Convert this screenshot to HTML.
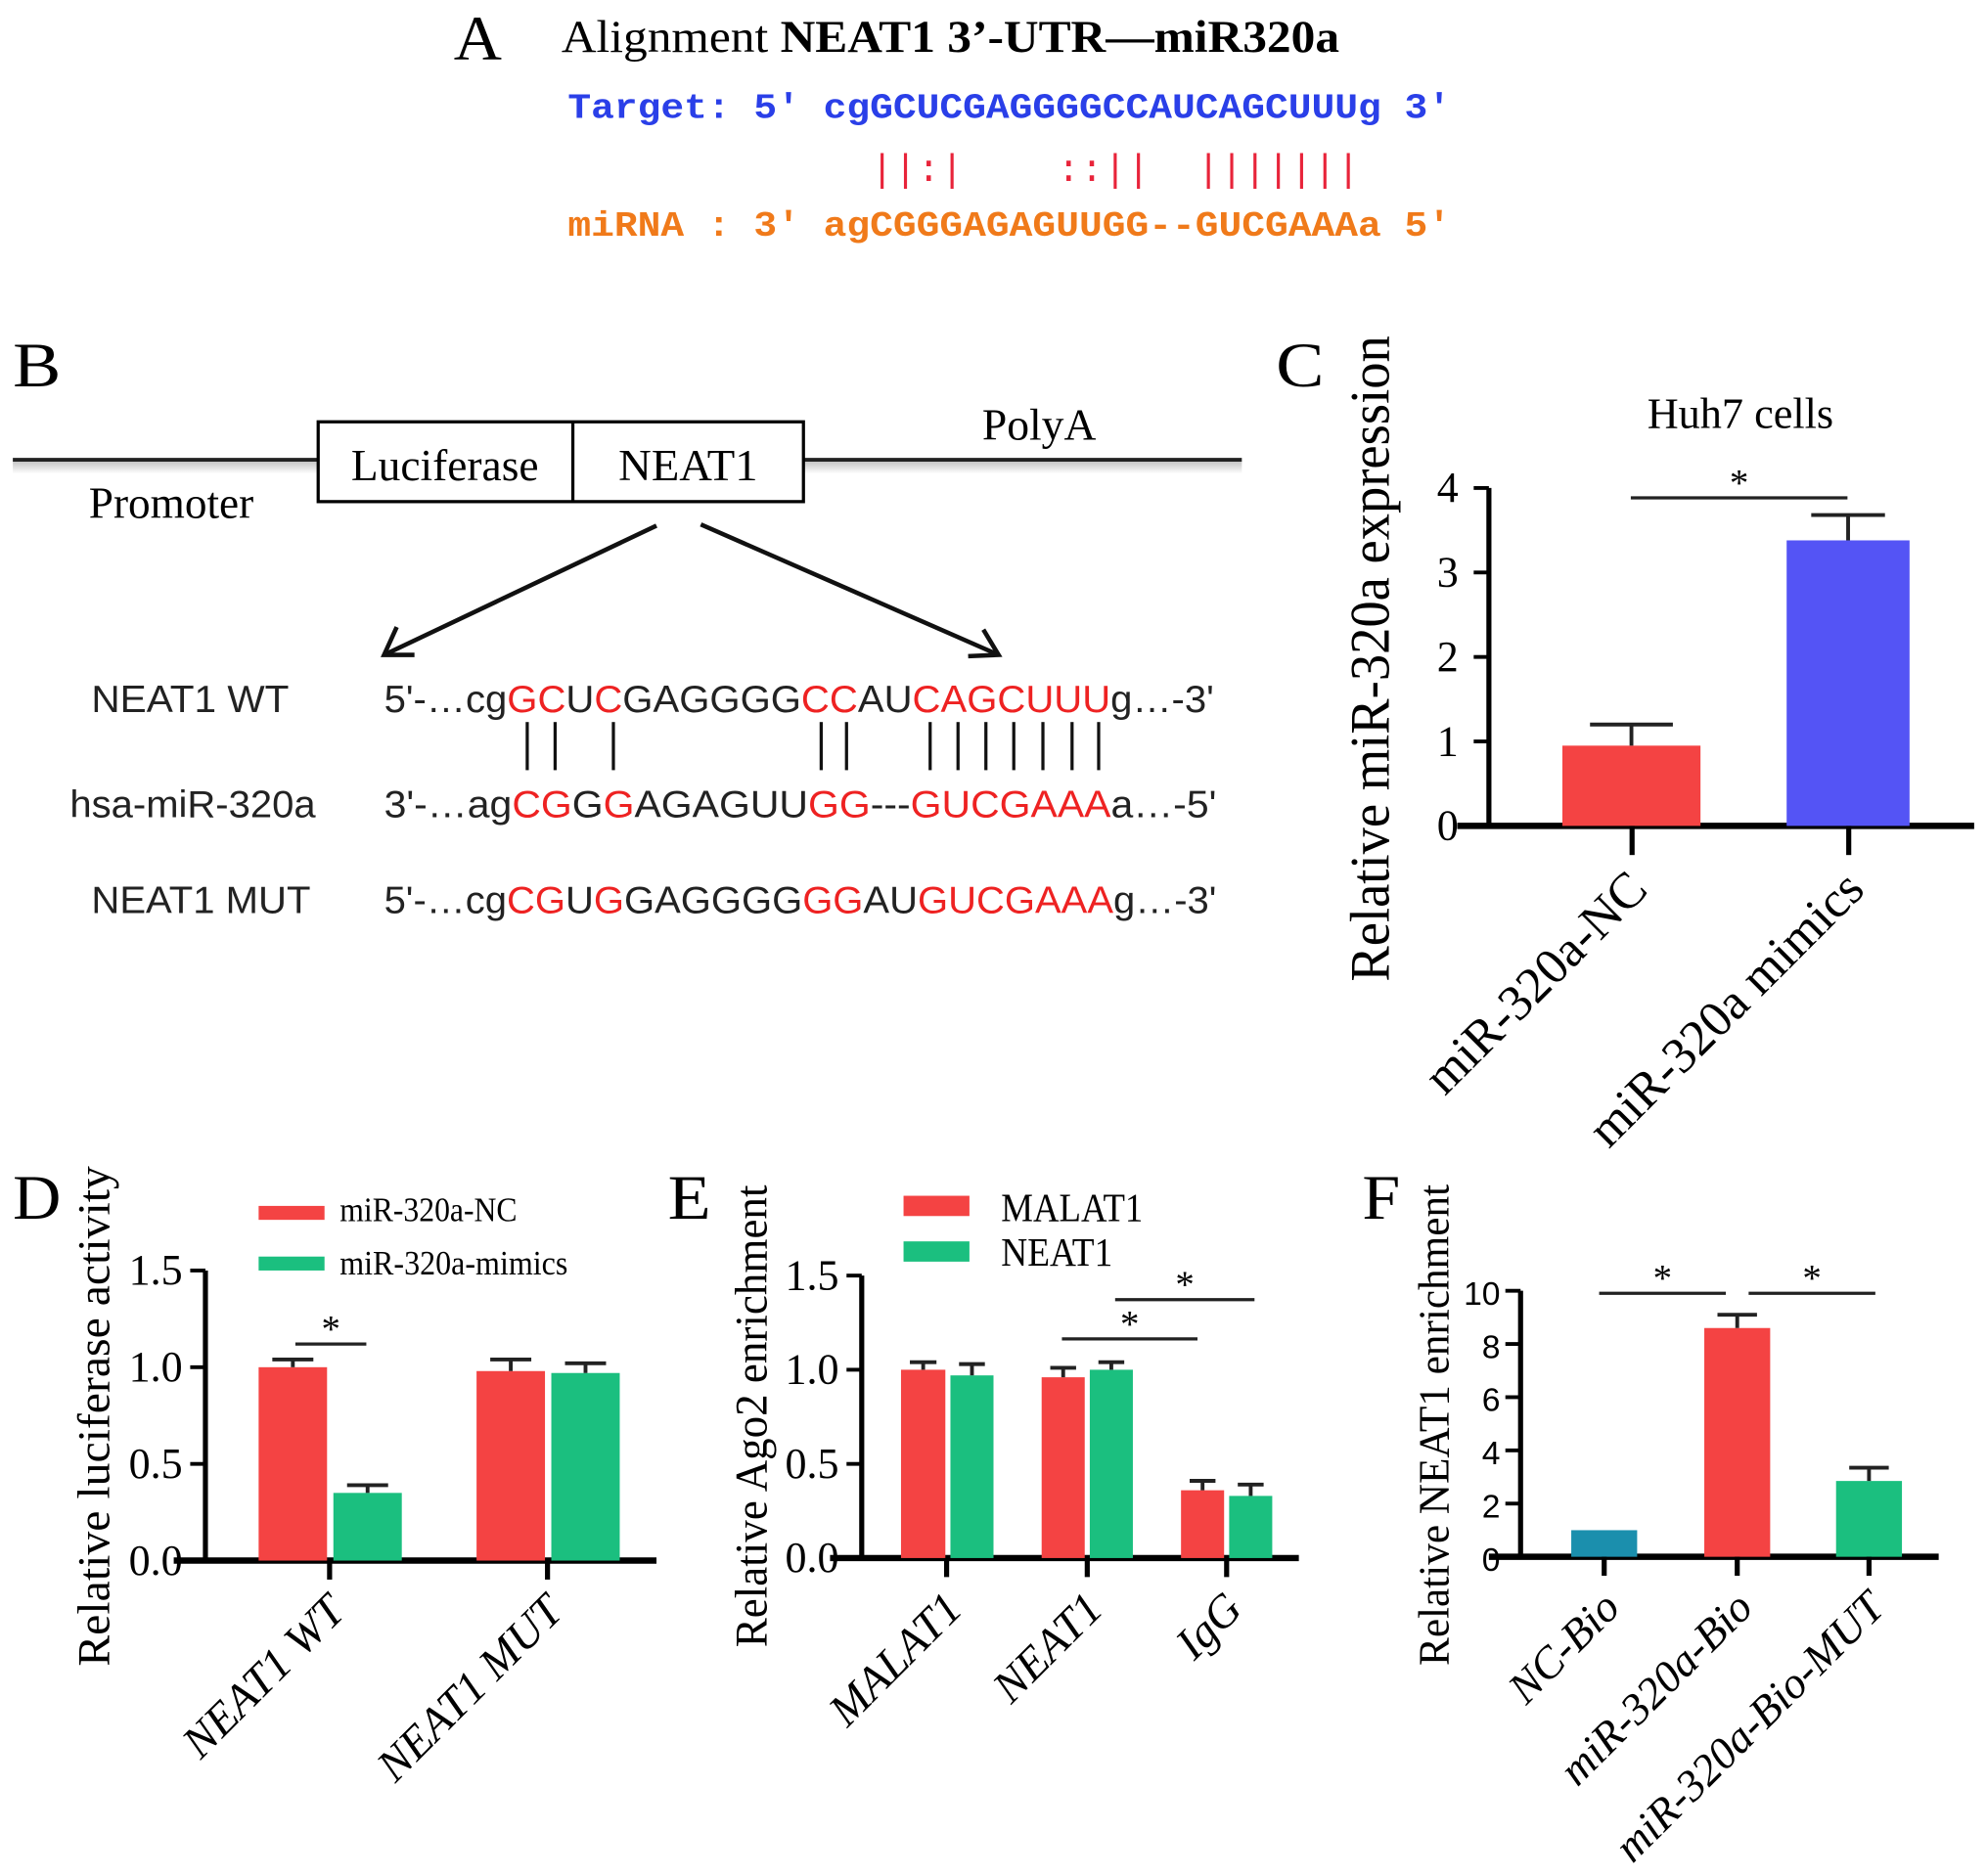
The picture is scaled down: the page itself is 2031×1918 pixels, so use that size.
<!DOCTYPE html>
<html><head><meta charset="utf-8"><style>html,body{margin:0;padding:0;background:#fff}svg{display:block}</style></head>
<body>
<svg xmlns="http://www.w3.org/2000/svg" width="2031" height="1918" viewBox="0 0 1568 1481">
<defs><linearGradient id="sh" x1="0" y1="0" x2="0" y2="1"><stop offset="0" stop-color="#888"/><stop offset="1" stop-color="#fff"/></linearGradient></defs>
<g>
<text x="358" y="47" font-family="Liberation Serif, serif" font-size="50" textLength="38" lengthAdjust="spacingAndGlyphs">A</text>
<text x="443" y="41" font-family="Liberation Serif, serif" font-size="36" textLength="614" lengthAdjust="spacingAndGlyphs">Alignment <tspan font-weight="bold">NEAT1 3’-UTR—miR320a</tspan></text>
<text x="448" y="93" font-family="Liberation Mono, monospace" font-weight="bold" font-size="28" fill="#2a3fe8" textLength="697" lengthAdjust="spacingAndGlyphs" xml:space="preserve">Target: 5' cgGCUCGAGGGGCCAUCAGCUUUg 3'</text>
<text x="448" y="143" font-family="Liberation Mono, monospace" font-size="30" fill="#e8243a" textLength="625" lengthAdjust="spacing" xml:space="preserve">             ||:|    ::||  |||||||</text>
<text x="448" y="186" font-family="Liberation Mono, monospace" font-weight="bold" font-size="28" fill="#f07a1a" textLength="697" lengthAdjust="spacingAndGlyphs" xml:space="preserve">miRNA : 3' agCGGGAGAGUUGG--GUCGAAAa 5'</text>
</g>
<g>
<text x="10" y="305" font-family="Liberation Serif, serif" font-size="50" textLength="38" lengthAdjust="spacingAndGlyphs">B</text>
<rect x="10" y="364" width="970" height="10" fill="url(#sh)" opacity="0.5"/>
<line x1="10" y1="363" x2="980" y2="363" stroke="#222" stroke-width="3"/>
<rect x="251" y="333" width="383" height="63" fill="#fff" stroke="#000" stroke-width="2.5"/>
<line x1="452" y1="333" x2="452" y2="396" stroke="#000" stroke-width="2.5"/>
<text x="277" y="379" font-family="Liberation Serif, serif" font-size="35" textLength="148" lengthAdjust="spacingAndGlyphs">Luciferase</text>
<text x="488" y="379" font-family="Liberation Serif, serif" font-size="35" textLength="110" lengthAdjust="spacingAndGlyphs">NEAT1</text>
<text x="70" y="409" font-family="Liberation Serif, serif" font-size="35" textLength="130" lengthAdjust="spacingAndGlyphs">Promoter</text>
<text x="775" y="347" font-family="Liberation Serif, serif" font-size="35" textLength="90" lengthAdjust="spacingAndGlyphs">PolyA</text>
<g stroke="#111" stroke-width="3.5" fill="none">
<line x1="518" y1="415" x2="303" y2="517"/><polyline points="313,495 303,517 327,517"/>
<line x1="553" y1="414" x2="788" y2="517"/><polyline points="764,518 788,517 776,497"/>
</g>
<g font-family="Liberation Sans, sans-serif" font-size="30" fill="#222">
<text x="72" y="562" textLength="156" lengthAdjust="spacingAndGlyphs">NEAT1 WT</text>
<text x="55" y="645" textLength="194" lengthAdjust="spacingAndGlyphs">hsa-miR-320a</text>
<text x="72" y="721" textLength="173" lengthAdjust="spacingAndGlyphs">NEAT1 MUT</text>
<text x="303" y="562" textLength="655" lengthAdjust="spacingAndGlyphs">5'-…cg<tspan fill="#ee2222">GC</tspan>U<tspan fill="#ee2222">C</tspan>GAGGGG<tspan fill="#ee2222">CC</tspan>AU<tspan fill="#ee2222">CAGCUUU</tspan>g…-3'</text>
<text x="303" y="645" textLength="657" lengthAdjust="spacingAndGlyphs">3'-…ag<tspan fill="#ee2222">CG</tspan>G<tspan fill="#ee2222">G</tspan>AGAGUU<tspan fill="#ee2222">GG</tspan>---<tspan fill="#ee2222">GUCGAAA</tspan>a…-5'</text>
<text x="303" y="721" textLength="657" lengthAdjust="spacingAndGlyphs">5'-…cg<tspan fill="#ee2222">CG</tspan>U<tspan fill="#ee2222">G</tspan>GAGGGG<tspan fill="#ee2222">GG</tspan>AU<tspan fill="#ee2222">GUCGAAA</tspan>g…-3'</text>
</g>
<g stroke="#111" stroke-width="2.5">
<line x1="416" y1="570" x2="416" y2="608"/><line x1="438" y1="570" x2="438" y2="608"/><line x1="484" y1="570" x2="484" y2="608"/>
<line x1="648" y1="570" x2="648" y2="608"/><line x1="668" y1="570" x2="668" y2="608"/>
<line x1="734" y1="570" x2="734" y2="608"/><line x1="756" y1="570" x2="756" y2="608"/><line x1="778" y1="570" x2="778" y2="608"/><line x1="800" y1="570" x2="800" y2="608"/><line x1="823" y1="570" x2="823" y2="608"/><line x1="846" y1="570" x2="846" y2="608"/><line x1="867" y1="570" x2="867" y2="608"/>
</g>
</g>
<g id="charts"></g>
<g font-family="Liberation Serif, serif" font-size="50">
<text x="1007" y="305" textLength="38" lengthAdjust="spacingAndGlyphs">C</text><text x="10" y="962" textLength="38" lengthAdjust="spacingAndGlyphs">D</text><text x="527" y="962" textLength="34" lengthAdjust="spacingAndGlyphs">E</text><text x="1075" y="962" textLength="30" lengthAdjust="spacingAndGlyphs">F</text>
</g>
</svg>
<script>
const RED='#f44343', GREEN='#1bbf7f', BLUE='#5454f5', TEAL='#1b8fad';
// Panel C
const cCats=['miR-320a-NC','miR-320a mimics'];
const cVals=[0.95,3.38];
const cErr=[1.2,3.68];
const cTicks=[0,1,2,3,4];
// Panel D
const dCats=['NEAT1 WT','NEAT1 MUT'];
const dSeries=['miR-320a-NC','miR-320a-mimics'];
const dNC=[1.0,0.98];
const dMim=[0.35,0.97];
const dNCErr=[1.04,1.04];
const dMimErr=[0.39,1.02];
const dTicks=['0.0','0.5','1.0','1.5'];
// Panel E
const eCats=['MALAT1','NEAT1','IgG'];
const eSeries=['MALAT1','NEAT1'];
const eMal=[1.0,0.96,0.36];
const eNea=[0.97,1.0,0.33];
const eMalErr=[1.04,1.01,0.41];
const eNeaErr=[1.03,1.04,0.39];
const eTicks=['0.0','0.5','1.0','1.5'];
// Panel F
const fCats=['NC-Bio','miR-320a-Bio','miR-320a-Bio-MUT'];
const fVals=[1.0,8.6,2.85];
const fErr=[1.0,9.1,3.35];
const fTicks=[0,2,4,6,8,10];

const NS='http://www.w3.org/2000/svg';
const root=document.getElementById('charts');
function mk(tag,attrs,parent,txt){const e=document.createElementNS(NS,tag);for(const k in attrs)e.setAttribute(k,attrs[k]);if(txt!==undefined)e.textContent=txt;(parent||root).appendChild(e);return e;}

function chart(o){
  const g=mk('g',{});
  
  
  const y=v=>o.y0-(v/o.ymax)*(o.y0-o.ytop);
  const ya=mk('line',{x1:o.ax,y1:o.ytop,x2:o.ax,y2:o.y0+2,stroke:'#000','stroke-width':4},g);
  
  
  o.ticks.forEach(t=>{
    const v=parseFloat(t);
    mk('line',{x1:o.ax-12,y1:y(v),x2:o.ax,y2:y(v),stroke:'#000','stroke-width':3},g);
    const tl=mk('text',{x:o.ax-o.tickGap,y:y(v)+11,'text-anchor':'end','font-family':o.tickFont,'font-size':o.tickSize},g,String(t));
    
    
  });
  const xa=mk('line',{x1:o.ax-25,y1:o.y0,x2:o.xend,y2:o.y0,stroke:'#000','stroke-width':5},g);
  
  
  o.bars.forEach(b=>{
    const top=y(b.v);
    const r=mk('rect',{x:b.x,y:top,width:b.w,height:o.y0-top,fill:b.c},g);
    
    
    if(b.e>b.v){
      const cx=b.x+b.w/2;
      mk('line',{x1:cx,y1:top,x2:cx,y2:y(b.e),stroke:'#222','stroke-width':3},g);
      mk('line',{x1:cx-b.w*0.3,y1:y(b.e),x2:cx+b.w*0.3,y2:y(b.e),stroke:'#222','stroke-width':3},g);
    }
  });
  o.cats.forEach((c,i)=>{
    const tx=o.tickX[i];
    mk('line',{x1:tx,y1:o.y0,x2:tx,y2:o.y0+o.tickLen,stroke:'#000','stroke-width':4},g);
    const t=mk('text',{x:0,y:0,'text-anchor':'end','font-family':'Liberation Serif, serif','font-size':o.labSize,'font-style':o.italic?'italic':'normal',transform:`translate(${tx+14},${o.y0+o.labOff}) rotate(-45)`},g,c);
    
    
  });
  const yt=mk('text',{x:0,y:0,'text-anchor':'middle','font-family':'Liberation Serif, serif','font-size':o.titleSize,textLength:o.titleLen,lengthAdjust:'spacingAndGlyphs',transform:`translate(${o.titleX},${o.titleY}) rotate(-90)`},g,o.title);
  
  
  (o.sig||[]).forEach(s=>{
    mk('line',{x1:s[0],y1:s[2],x2:s[1],y2:s[2],stroke:'#222','stroke-width':2.5},g);
    const st=mk('text',{x:(s[0]+s[1])/2,y:s[2]-2,'text-anchor':'middle','font-family':'Liberation Serif, serif','font-size':30},g,'*');
    
    
  });
  return g;
}

// C
chart({name:'chart-c',ax:1175,ytop:385.25,y0:652,ymax:4,ticks:cTicks,tickFont:'Liberation Serif, serif',tickSize:34,tickGap:24,xend:1558,
  bars:[{x:1233,w:109,v:cVals[0],e:cErr[0],c:RED},{x:1410,w:97,v:cVals[1],e:cErr[1],c:BLUE}],
  cats:cCats,tickX:[1288,1459],tickLen:23,labSize:40,labOff:52,italic:false,
  title:'Relative miR-320a expression',titleX:1096,titleY:520,titleSize:44,titleLen:510,sig:[[1287,1458,393]]});
mk('text',{x:1300,y:338,'font-family':'Liberation Serif, serif','font-size':34,textLength:147,lengthAdjust:'spacingAndGlyphs'},null,'Huh7 cells');

// D
const gD=chart({name:'chart-d',ax:162,ytop:1003,y0:1232,ymax:1.5,ticks:dTicks,tickFont:'Liberation Serif, serif',tickSize:34,tickGap:18,xend:518,
  bars:[{x:204,w:54,v:dNC[0],e:dNCErr[0],c:RED},{x:263,w:54,v:dMim[0],e:dMimErr[0],c:GREEN},
        {x:376,w:54,v:dNC[1],e:dNCErr[1],c:RED},{x:435,w:54,v:dMim[1],e:dMimErr[1],c:GREEN}],
  cats:dCats,tickX:[260,432],tickLen:15,labSize:36,labOff:42,italic:true,
  title:'Relative luciferase activity',titleX:86,titleY:1118,titleSize:36,titleLen:395,sig:[[233,289,1061]]});
[[RED,952,dSeries[0],964,140],[GREEN,992,dSeries[1],1006,180]].forEach(l=>{
  mk('rect',{x:204,y:l[1],width:52,height:11,fill:l[0]},gD);
  const t=mk('text',{x:268,y:l[3],'font-family':'Liberation Serif, serif','font-size':27,textLength:l[4],lengthAdjust:'spacingAndGlyphs'},gD,l[2]);
  
  
});

// E
const gE=chart({name:'chart-e',ax:680,ytop:1007,y0:1230,ymax:1.5,ticks:eTicks,tickFont:'Liberation Serif, serif',tickSize:34,tickGap:18,xend:1025,
  bars:[{x:711,w:35,v:eMal[0],e:eMalErr[0],c:RED},{x:750,w:34,v:eNea[0],e:eNeaErr[0],c:GREEN},
        {x:822,w:34,v:eMal[1],e:eMalErr[1],c:RED},{x:860,w:34,v:eNea[1],e:eNeaErr[1],c:GREEN},
        {x:932,w:34,v:eMal[2],e:eMalErr[2],c:RED},{x:970,w:34,v:eNea[2],e:eNeaErr[2],c:GREEN}],
  cats:eCats,tickX:[747,858,968],tickLen:15,labSize:36,labOff:42,italic:true,
  title:'Relative Ago2 enrichment',titleX:605,titleY:1118,titleSize:36,titleLen:365,sig:[[838,945,1057],[880,990,1026]]});
[[RED,944,eSeries[0],964,112],[GREEN,980,eSeries[1],999,88]].forEach(l=>{
  mk('rect',{x:713,y:l[1],width:52,height:16,fill:l[0]},gE);
  const t=mk('text',{x:790,y:l[3],'font-family':'Liberation Serif, serif','font-size':32,textLength:l[4],lengthAdjust:'spacingAndGlyphs'},gE,l[2]);
  
  
});

// F
chart({name:'chart-f',ax:1200,ytop:1019,y0:1229,ymax:10,ticks:fTicks,tickFont:'Liberation Sans, sans-serif',tickSize:26,tickGap:16,xend:1530,
  bars:[{x:1240,w:52,v:fVals[0],e:fErr[0],c:TEAL},{x:1345,w:52,v:fVals[1],e:fErr[1],c:RED},{x:1449,w:52,v:fVals[2],e:fErr[2],c:GREEN}],
  cats:fCats,tickX:[1266,1371,1475],tickLen:15,labSize:35,labOff:42,italic:true,
  title:'Relative NEAT1 enrichment',titleX:1143,titleY:1125,titleSize:34,titleLen:380,sig:[[1262,1362,1021],[1380,1480,1021]]});
</script>
</body></html>
